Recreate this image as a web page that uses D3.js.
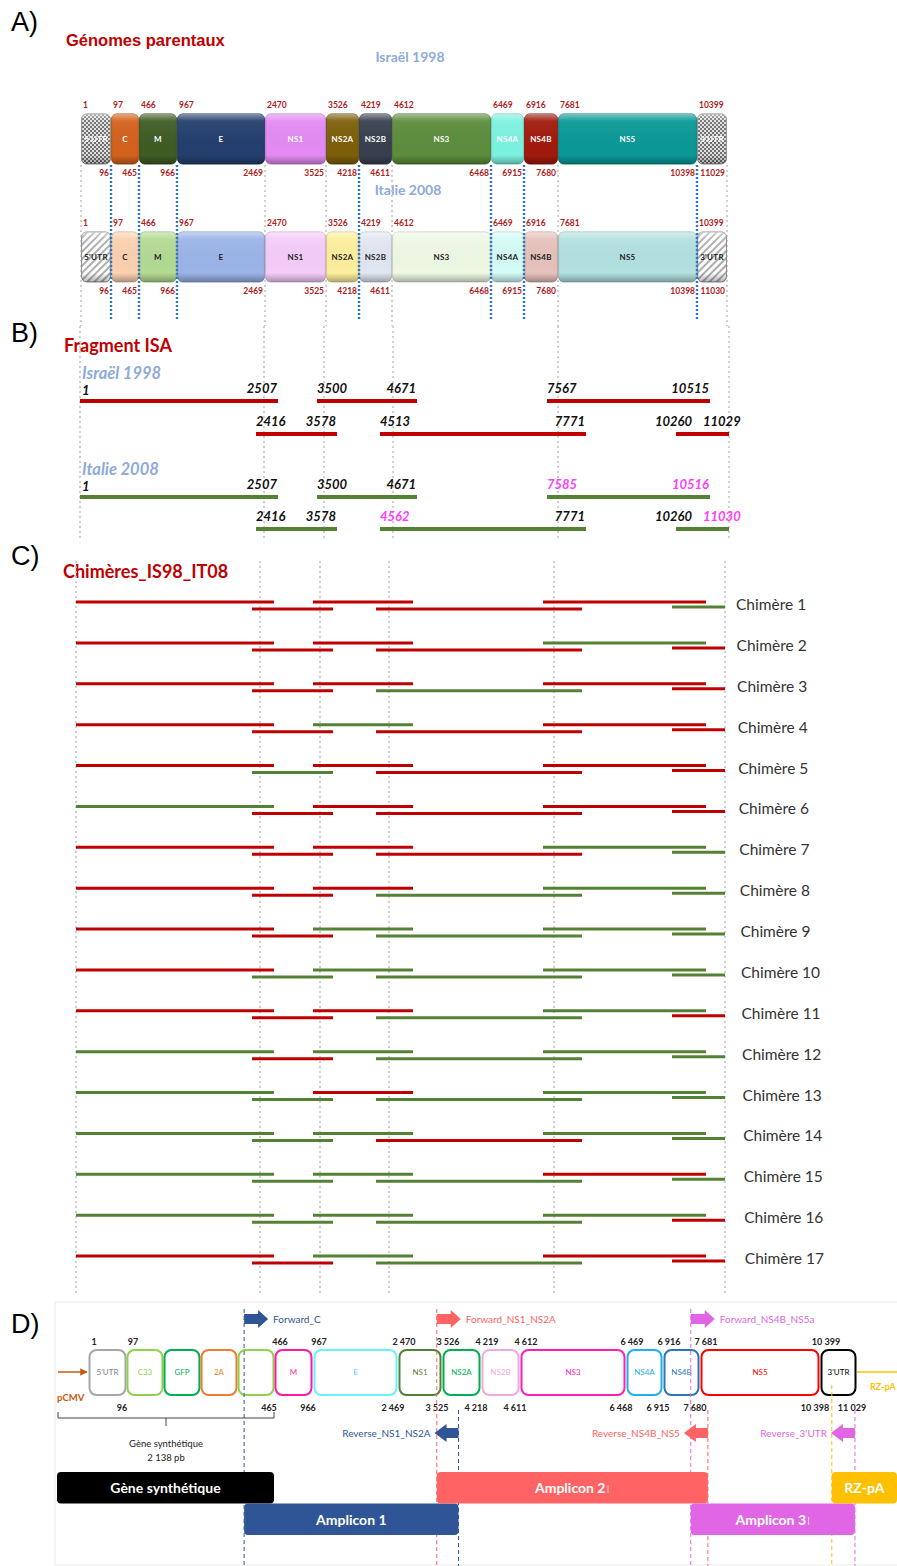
<!DOCTYPE html>
<html lang="fr">
<head>
<meta charset="UTF-8">
<title>Génomes parentaux, fragments ISA et chimères IS98 / IT08</title>
<script src="https://d3js.org/d3.v7.min.js"></script>
<style>
  body { margin: 0; background: #fff; }
  svg { display: block; font-family: Lato, "Liberation Sans", sans-serif; }
</style>
</head>
<body>
<svg width="897" height="1566"></svg>
<script>
// ---------- data ----------
const genes = ["5'UTR", "C", "M", "E", "NS1", "NS2A", "NS2B", "NS3", "NS4A", "NS4B", "NS5", "3'UTR"];
const geneStarts = [1, 97, 466, 967, 2470, 3526, 4219, 4612, 6469, 6916, 7681, 10399];
const geneEndsIS98 = [96, 465, 966, 2469, 3525, 4218, 4611, 6468, 6915, 7680, 10398, 11029];
const geneEndsIT08 = [96, 465, 966, 2469, 3525, 4218, 4611, 6468, 6915, 7680, 10398, 11030];
const colorsIS98 = [null, "#d4611c", "#3e5c24", "#243f6e", "#e38bf3", "#7d5f0a", "#38404f", "#5c8d3c", "#7df2e0", "#a11a0c", "#0a9996", null];
const colorsIT08 = [null, "#fbd1b1", "#b3db93", "#9bb4e8", "#f4ccf8", "#fdef9d", "#e1e7f1", "#eef9e4", "#d4fbf6", "#e7c2bc", "#b2e1e0", null];

// vertical guides of panel A
const guideGrey = [1, 2470, 3526, 4612, 7681, 11030];
const guideBlue = [97, 466, 967, 4219, 6469, 6916, 10399];

// ISA fragments (upper row: 1, 3, 5 ; lower row: 2, 4, 6)
const fragStartIS98 = [1, 2416, 3500, 4513, 7567, 10260];
const fragEndIS98 = [2507, 3578, 4671, 7771, 10515, 11029];
const fragStartIT08 = [1, 2416, 3500, 4562, 7585, 10260];
const fragEndIT08 = [2507, 3578, 4671, 7771, 10516, 11030];

// chimeras: origin of each of the 6 fragments, I = Israël 1998, T = Italie 2008
const chimeras = d3.range(1, 18).map(i => "Chimère " + i);
const chimeraOrigin = [
  "IIIIIT", "IIIITI", "IIITII", "IITIII", "ITIIII", "TIIIII",
  "IIIITT", "IIITTT", "IITTTT", "ITTTTT", "IIITTI", "TITTTT",
  "TTITTT", "TTTITT", "TTTTIT", "TTTTTI", "IITTII"
];

// panel D: construct
const cassette = ["C33", "GFP", "2A", ""];
const cassetteColors = ["#92d050", "#00b050", "#ed7d31", "#92d050"];
const constructColors = ["#a6a6a6", null, "#ff1aa3", "#66f2ff", "#548235", "#00b050", "#f2a9de", "#ff1fb4", "#1fb0ef", "#2e75b6", "#ff0000", "#000000"];
const constructText = ["#808080", null, "#ff1aa3", "#40d8ff", "#548235", "#00b050", "#f2a9de", "#ff1fb4", "#1fb0ef", "#2e75b6", "#ff0000", "#000000"];
const primersFwd = ["Forward_C", "Forward_NS1_NS2A", "Forward_NS4B_NS5a"];
const primersFwdPos = [391, 3400, 7490];
const primersRev = ["Reverse_NS1_NS2A", "Reverse_NS4B_NS5", "Reverse_3'UTR"];
const primersRevPos = [3820, 7860, 10995];
const primerColors = ["#2f5597", "#ff6363", "#e066e6"];
const amplicons = ["Gène synthétique", "Amplicon 1", "Amplicon 2", "Amplicon 3", "RZ-pA"];
const ampliconMark = ["", "", "I", "I", ""];
const ampliconStart = [-250, 391, 3400, 7490, 10600];
const ampliconEnd = [465, 3820, 7860, 10995, 11500];
const ampliconColors = ["#000000", "#2f5597", "#ff6363", "#e066e6", "#ffc000"];
const ampliconRow = [0, 1, 0, 1, 0];

// ---------- scales (schematic, piecewise linear) ----------
const xA = d3.scaleLinear()
  .domain([1, 97, 466, 967, 2470, 3526, 4219, 4612, 6469, 6916, 7681, 10399, 11030])
  .range([81, 111, 139, 177, 265, 326, 359, 392, 491, 524, 558, 697, 727]);

const xB = d3.scaleLinear()
  .domain([1, 2416, 2470, 2507, 3500, 3526, 3578, 4513, 4612, 4671, 7567, 7681, 7771, 10260, 10515, 11029])
  .range([80, 256, 264, 278, 317, 324, 337, 380, 393, 417, 547, 558, 586, 676, 710, 729]);

const xC = xB.copy().range(xB.range().map(v => v - 4));

const xD = d3.scaleLinear()
  .domain([-250, 1, 97, 466, 967, 2470, 3526, 4219, 4612, 6469, 6916, 7681, 10399, 11030, 11500])
  .range([57, 88, 127, 274, 313, 398, 442, 481, 520, 626, 663, 700, 820, 857, 897]);

const yC = d3.scalePoint().domain(chimeras).range([602, 1256]);

const RED = "#c00000", GREEN = "#548235", PINK = "#ff3dff", BLUE_T = "#8eaadb";
const fmtSp = d3.formatLocale({ decimal: ",", thousands: " ", grouping: [3] }).format(",d");

const svg = d3.select("svg");
const defs = svg.append("defs");

const chk = defs.append("pattern").attr("id", "checker")
  .attr("width", 4).attr("height", 4).attr("patternUnits", "userSpaceOnUse");
chk.append("rect").attr("width", 4).attr("height", 4).attr("fill", "#e2e2e2");
chk.append("rect").attr("width", 2).attr("height", 2).attr("fill", "#707070");
chk.append("rect").attr("x", 2).attr("y", 2).attr("width", 2).attr("height", 2).attr("fill", "#707070");

const hatch = defs.append("pattern").attr("id", "hatch")
  .attr("width", 5).attr("height", 5).attr("patternUnits", "userSpaceOnUse")
  .attr("patternTransform", "rotate(45)");
hatch.append("rect").attr("width", 5).attr("height", 5).attr("fill", "#fff");
hatch.append("line").attr("x1", 1).attr("y1", 0).attr("x2", 1).attr("y2", 5)
  .attr("stroke", "#9a9a9a").attr("stroke-width", 1.6);

const bevel = defs.append("linearGradient").attr("id", "bevel")
  .attr("x1", 0).attr("y1", 0).attr("x2", 0).attr("y2", 1);
[[0, "#fff", 0.45], [0.14, "#fff", 0.06], [0.82, "#000", 0], [1, "#000", 0.3]].forEach(s =>
  bevel.append("stop").attr("offset", s[0]).attr("stop-color", s[1]).attr("stop-opacity", s[2]));

const arrowHead = defs.append("marker").attr("id", "cmvHead")
  .attr("viewBox", "0 0 10 10").attr("refX", 9).attr("refY", 5)
  .attr("markerWidth", 5).attr("markerHeight", 5).attr("orient", "auto");
arrowHead.append("path").attr("d", "M0,0L10,5L0,10Z").attr("fill", "#c55a11");

function panelLetter(txt, y) {
  svg.append("text").attr("x", 11).attr("y", y).attr("font-family", "Liberation Sans, Arial")
    .attr("font-size", 27).attr("fill", "#000").text(txt);
}
function redTitle(txt, x, y, family, size) {
  svg.append("text").attr("x", x).attr("y", y).attr("font-family", family)
    .attr("font-size", size).attr("font-weight", "bold").attr("fill", RED).text(txt);
}
function guides(xs, scale, y1, y2, color, width, dash) {
  svg.append("g").selectAll("line").data(xs).join("line")
    .attr("x1", d => scale(d)).attr("x2", d => scale(d))
    .attr("y1", y1).attr("y2", y2)
    .attr("stroke", color).attr("stroke-width", width).attr("stroke-dasharray", dash);
}

// ---------- A) ----------
panelLetter("A)", 31);
redTitle("Génomes parentaux", 66, 46, "Liberation Sans, Arial", 16.5);

svg.append("text").attr("x", 410).attr("y", 62).attr("text-anchor", "middle")
  .attr("font-size", 14).attr("font-weight", "bold").attr("fill", BLUE_T).text("Israël 1998");
svg.append("text").attr("x", 408).attr("y", 195).attr("text-anchor", "middle")
  .attr("font-size", 14).attr("font-weight", "bold").attr("fill", BLUE_T).text("Italie 2008");

guides(guideGrey, xA, 165, 326, "#c4c4c4", 1.6, "2,3");

function drawGenome(y, ends, colors, pattern, textColor) {
  const g = svg.append("g");
  const items = genes.map((name, i) => ({
    name, start: geneStarts[i], end: ends[i], color: colors[i]
  }));
  const box = g.selectAll("g.box").data(items).join("g").attr("class", "box");
  box.append("rect")
    .attr("x", d => xA(d.start) + 0.6).attr("y", y)
    .attr("width", d => xA(d.end + 1) - xA(d.start) - 1.2).attr("height", 50)
    .attr("rx", 5)
    .attr("fill", d => d.color ? d.color : `url(#${pattern})`)
    .attr("stroke", d => d.color ? d3.color(d.color).darker(0.5) : "#8a8a8a")
    .attr("stroke-width", 1);
  box.append("rect")
    .attr("x", d => xA(d.start) + 0.6).attr("y", y)
    .attr("width", d => xA(d.end + 1) - xA(d.start) - 1.2).attr("height", 50)
    .attr("rx", 5).attr("fill", "url(#bevel)");
  box.append("text")
    .attr("x", d => (xA(d.start) + xA(d.end + 1)) / 2).attr("y", y + 28)
    .attr("text-anchor", "middle").attr("font-size", 8).attr("font-weight", "bold")
    .attr("letter-spacing", 0.3)
    .attr("fill", textColor).text(d => d.name);
  g.selectAll("text.top").data(items).join("text").attr("class", "top")
    .attr("x", d => xA(d.start) + 2).attr("y", y - 6)
    .attr("font-size", 8.5).attr("font-weight", "bold").attr("fill", "#b01b1b")
    .text(d => d.start);
  g.selectAll("text.bot").data(items).join("text").attr("class", "bot")
    .attr("x", d => xA(d.end + 1) - 2).attr("y", y + 62).attr("text-anchor", "end")
    .attr("font-size", 8.5).attr("font-weight", "bold").attr("fill", "#b01b1b")
    .text(d => d.end);
}
drawGenome(114, geneEndsIS98, colorsIS98, "checker", "#fff");
drawGenome(232, geneEndsIT08, colorsIT08, "hatch", "#222");

guides(guideBlue, xA, 165, 321, "#2e75c6", 2.4, "2,2");

// ---------- B) ----------
panelLetter("B)", 342);
redTitle("Fragment ISA", 64, 352, "Lato", 18);
guides([1, 2470, 3526, 4612, 7681, 11029], xB, 326, 541, "#c4c4c4", 1.6, "2,3");

const strainsB = [
  { name: "Israël 1998", starts: fragStartIS98, ends: fragEndIS98, color: RED, y: [401, 434] },
  { name: "Italie 2008", starts: fragStartIT08, ends: fragEndIT08, color: GREEN, y: [497, 529] }
];
strainsB.forEach(s => {
  const g = svg.append("g");
  g.append("text").attr("x", 82).attr("y", s.y[0] - 22)
    .attr("font-size", 16.5).attr("font-weight", "bold").attr("font-style", "italic")
    .attr("fill", BLUE_T).text(s.name);
  const frags = s.starts.map((st, i) => ({
    i, start: st, end: s.ends[i], posStart: fragStartIS98[i], posEnd: fragEndIS98[i],
    y: s.y[i % 2]
  }));
  g.selectAll("line").data(frags).join("line")
    .attr("x1", d => xB(d.posStart)).attr("x2", d => xB(d.posEnd))
    .attr("y1", d => d.y).attr("y2", d => d.y)
    .attr("stroke", s.color).attr("stroke-width", 4);
  const last = fragStartIS98.length - 1;
  g.selectAll("text.s").data(frags).join("text").attr("class", "s")
    .attr("x", d => d.i === last ? xB(d.posStart) + 16 : xB(d.posStart) + (d.i === 0 ? 2 : 0))
    .attr("text-anchor", d => d.i === last ? "end" : "start")
    .attr("y", d => d.y - (d.i === 0 ? 6 : 8))
    .attr("font-size", 13).attr("font-weight", "bold").attr("font-style", "italic")
    .attr("fill", d => d.start !== fragStartIS98[d.i] ? PINK : "#111")
    .text(d => d.start);
  g.selectAll("text.e").data(frags).join("text").attr("class", "e")
    .attr("x", d => d.i === last ? xB(d.posEnd) - 26 : xB(d.posEnd) - 1)
    .attr("text-anchor", d => d.i === last ? "start" : "end")
    .attr("y", d => d.y - 8)
    .attr("font-size", 13).attr("font-weight", "bold").attr("font-style", "italic")
    .attr("fill", d => d.end !== fragEndIS98[d.i] ? PINK : "#111")
    .text(d => d.end);
});

// ---------- C) ----------
panelLetter("C)", 565);
redTitle("Chimères_IS98_IT08", 63, 578, "Lato", 18);
guides([1, 2470, 3526, 4612, 7681, 11029], xC, 561, 1293, "#c4c4c4", 1.6, "2,3");

const segC = [];
chimeras.forEach((c, r) => {
  chimeraOrigin[r].split("").forEach((o, i) => {
    segC.push({ c, i, origin: o });
  });
});
const gC = svg.append("g");
gC.selectAll("line").data(segC).join("line")
  .attr("x1", d => xC(fragStartIS98[d.i])).attr("x2", d => xC(fragEndIS98[d.i]))
  .attr("y1", d => yC(d.c) + (d.i % 2 ? (d.i === 5 ? 5 : 7) : 0))
  .attr("y2", d => yC(d.c) + (d.i % 2 ? (d.i === 5 ? 5 : 7) : 0))
  .attr("stroke", d => d.origin === "I" ? RED : GREEN).attr("stroke-width", 3);
gC.selectAll("text").data(chimeras).join("text")
  .attr("x", (d, i) => 736 + i * 0.55).attr("y", d => yC(d) + 8)
  .attr("font-size", 15.5).attr("fill", "#333").text(d => d);

// ---------- D) ----------
panelLetter("D)", 1333);
svg.append("rect").attr("x", 55).attr("y", 1302).attr("width", 860).attr("height", 263)
  .attr("fill", "none").attr("stroke", "#ececec");

const gD = svg.append("g");
const boxY = 1350, boxH = 45;
// construct boxes
const partsD = [];
genes.forEach((name, i) => {
  const x0 = xD(geneStarts[i]), x1 = xD(geneEndsIS98[i] + 1);
  if (name === "C") {
    const band = d3.scaleBand().domain(cassette).range([x0, x1]).paddingInner(0.03);
    cassette.forEach((p, k) => partsD.push({
      name: p, x0: band(p), x1: band(p) + band.bandwidth(), color: cassetteColors[k], text: cassetteColors[k]
    }));
  } else {
    partsD.push({ name, x0: x0 + 1, x1: x1 - 1, color: constructColors[i], text: constructText[i] });
  }
});
gD.selectAll("rect.part").data(partsD).join("rect").attr("class", "part")
  .attr("x", d => d.x0 + 0.5).attr("y", boxY).attr("width", d => d.x1 - d.x0 - 1).attr("height", boxH)
  .attr("rx", 7).attr("fill", "#fff").attr("stroke", d => d.color).attr("stroke-width", 2);
gD.selectAll("text.part").data(partsD).join("text").attr("class", "part")
  .attr("x", d => (d.x0 + d.x1) / 2).attr("y", boxY + 25).attr("text-anchor", "middle")
  .attr("font-size", 8).attr("fill", d => d.text).text(d => d.name);

gD.selectAll("text.top").data(geneStarts).join("text").attr("class", "top")
  .attr("x", d => xD(d) + 6).attr("y", 1345).attr("text-anchor", "middle")
  .attr("font-size", 9).attr("font-weight", "bold").attr("fill", "#222").text(d => fmtSp(d));
gD.selectAll("text.bot").data(geneEndsIS98).join("text").attr("class", "bot")
  .attr("x", d => xD(d + 1) - 5).attr("y", 1411).attr("text-anchor", "middle")
  .attr("font-size", 9).attr("font-weight", "bold").attr("fill", "#222").text(d => fmtSp(d));

// pCMV and RZ-pA
gD.append("line").attr("x1", xD(-250) + 1).attr("x2", xD(1) - 1).attr("y1", 1372).attr("y2", 1372)
  .attr("stroke", "#c55a11").attr("stroke-width", 1.5).attr("marker-end", "url(#cmvHead)");
gD.append("text").attr("x", 57).attr("y", 1401).attr("font-size", 9.5).attr("font-weight", "bold")
  .attr("fill", "#c55a11").text("pCMV");
gD.append("line").attr("x1", xD(11030)).attr("x2", xD(11500)).attr("y1", 1372).attr("y2", 1372)
  .attr("stroke", "#ffc000").attr("stroke-width", 1.5);
gD.append("text").attr("x", 870).attr("y", 1390).attr("font-size", 9).attr("font-weight", "bold")
  .attr("fill", "#ffc000").text("RZ-pA");

// primers
const fwd = primersFwd.map((n, i) => ({ n, x: xD(primersFwdPos[i]), color: primerColors[i] }));
const rev = primersRev.map((n, i) => ({ n, x: xD(primersRevPos[i]), color: primerColors[i] }));
gD.selectAll("line.fwd").data(fwd).join("line").attr("class", "fwd")
  .attr("x1", d => d.x).attr("x2", d => d.x).attr("y1", 1309).attr("y2", 1566)
  .attr("stroke", d => d.color).attr("stroke-width", 1).attr("stroke-dasharray", "4,3");
gD.selectAll("line.rev").data(rev).join("line").attr("class", "rev")
  .attr("x1", d => d.x).attr("x2", d => d.x).attr("y1", 1410).attr("y2", 1566)
  .attr("stroke", d => d.color).attr("stroke-width", 1).attr("stroke-dasharray", "4,3");
gD.append("line").attr("x1", xD(ampliconStart[4])).attr("x2", xD(ampliconStart[4]))
  .attr("y1", 1385).attr("y2", 1566).attr("stroke", "#ffc000").attr("stroke-dasharray", "4,3");

const yF = 1319, yR = 1433;
gD.selectAll("path.fwd").data(fwd).join("path").attr("class", "fwd")
  .attr("d", d => `M${d.x},${yF - 5}H${d.x + 14}V${yF - 9}L${d.x + 24},${yF}L${d.x + 14},${yF + 9}V${yF + 5}H${d.x}Z`)
  .attr("fill", d => d.color);
gD.selectAll("text.fwd").data(fwd).join("text").attr("class", "fwd")
  .attr("x", d => d.x + 29).attr("y", yF + 4).attr("font-size", 10).attr("fill", d => d.color).text(d => d.n);
gD.selectAll("path.rev").data(rev).join("path").attr("class", "rev")
  .attr("d", d => `M${d.x},${yR - 5}H${d.x - 12}V${yR - 9}L${d.x - 24},${yR}L${d.x - 12},${yR + 9}V${yR + 5}H${d.x}Z`)
  .attr("fill", d => d.color);
gD.selectAll("text.rev").data(rev).join("text").attr("class", "rev")
  .attr("x", d => d.x - 28).attr("y", yR + 4).attr("text-anchor", "end")
  .attr("font-size", 10).attr("fill", d => d.color).text(d => d.n);

// synthetic gene bracket
const bx0 = xD(ampliconStart[0]) + 1, bx1 = xD(ampliconEnd[0] + 1), bxm = (bx0 + bx1) / 2;
gD.append("path").attr("d", `M${bx0},1412V1418H${bx1}V1412M${bxm},1418V1426`)
  .attr("fill", "none").attr("stroke", "#444").attr("stroke-width", 1);
gD.append("text").attr("x", bxm).attr("y", 1447).attr("text-anchor", "middle")
  .attr("font-size", 9.5).attr("fill", "#222").text("Gène synthétique");
gD.append("text").attr("x", bxm).attr("y", 1461).attr("text-anchor", "middle")
  .attr("font-size", 9.5).attr("fill", "#222").text("2 138 pb");

// amplicons
const amp = amplicons.map((n, i) => ({
  n, mark: ampliconMark[i], x0: xD(ampliconStart[i]), x1: xD(ampliconEnd[i] + (i === 0 ? 1 : 0)),
  color: ampliconColors[i], row: ampliconRow[i]
}));
gD.selectAll("rect.amp").data(amp).join("rect").attr("class", "amp")
  .attr("x", d => d.x0).attr("y", d => 1472 + d.row * 31.5)
  .attr("width", d => d.x1 - d.x0).attr("height", 31.5).attr("rx", 4)
  .attr("fill", d => d.color);
const at = gD.selectAll("text.amp").data(amp).join("text").attr("class", "amp")
  .attr("x", d => (d.x0 + d.x1) / 2).attr("y", d => 1493 + d.row * 31.5)
  .attr("text-anchor", "middle").attr("font-size", 14).attr("font-weight", "bold").attr("fill", "#fff");
at.append("tspan").text(d => d.n);
at.append("tspan").attr("font-weight", 300).attr("font-size", 12).attr("dx", 1).text(d => d.mark);
</script>
</body>
</html>
